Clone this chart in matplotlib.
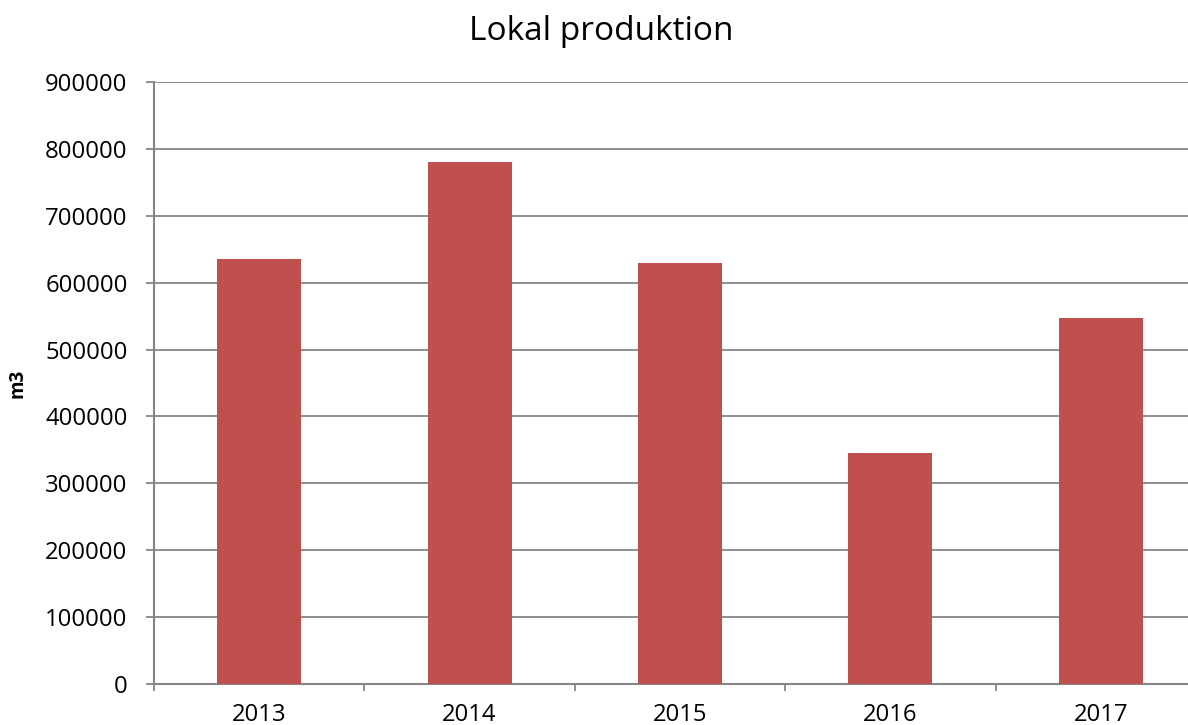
import matplotlib.pyplot as plt
import numpy as np

# data
years = ["2013", "2014", "2015", "2016", "2017"]
production_m3 = [635000, 780000, 629000, 345000, 547000]
y_ticks = [0, 100000, 200000, 300000, 400000, 500000, 600000, 700000, 800000, 900000]

plt.rcParams["font.family"] = ["Open Sans", "DejaVu Sans"]

fig = plt.figure(figsize=(11.88, 7.25), dpi=100)
# axes runs a little past the right edge, as in the cropped original
ax = fig.add_axes([154 / 1188, 1 - 684 / 725, 1052 / 1188, 602 / 725])

x = np.arange(len(years))
ax.bar(x, production_m3, width=0.4, color="#C0504D", zorder=3)

ax.set_xlim(-0.5, len(years) - 0.5)
ax.set_ylim(0, 900000)
ax.set_yticks(y_ticks)
ax.set_yticklabels([str(v) for v in y_ticks])
ax.set_xticks(x)
ax.set_xticklabels(years)
ax.set_xticks(np.arange(-0.5, len(years) + 0.5, 1), minor=True)

grey = "#868686"
ax.grid(True, axis="y", color=grey, linewidth=1.3, zorder=0)
for side in ["top", "right"]:
    ax.spines[side].set_visible(False)
for side in ["left", "bottom"]:
    ax.spines[side].set_color(grey)
    ax.spines[side].set_linewidth(1.5)

ax.tick_params(axis="y", length=6, width=1.3, color=grey, pad=13, labelsize=17.2)
ax.tick_params(axis="x", which="major", length=0, pad=14, labelsize=17.2)
ax.tick_params(axis="x", which="minor", length=5, width=1.3, color=grey)

fig.text(601 / 1188, 1 - 32 / 725, "Lokal produktion", ha="center", va="center", fontsize=24)
fig.text(18 / 1188, 1 - 383 / 725, "m3", rotation=90, ha="center", va="center",
         fontsize=13.5, fontweight="bold")

fig.savefig("out.png", dpi=100)
